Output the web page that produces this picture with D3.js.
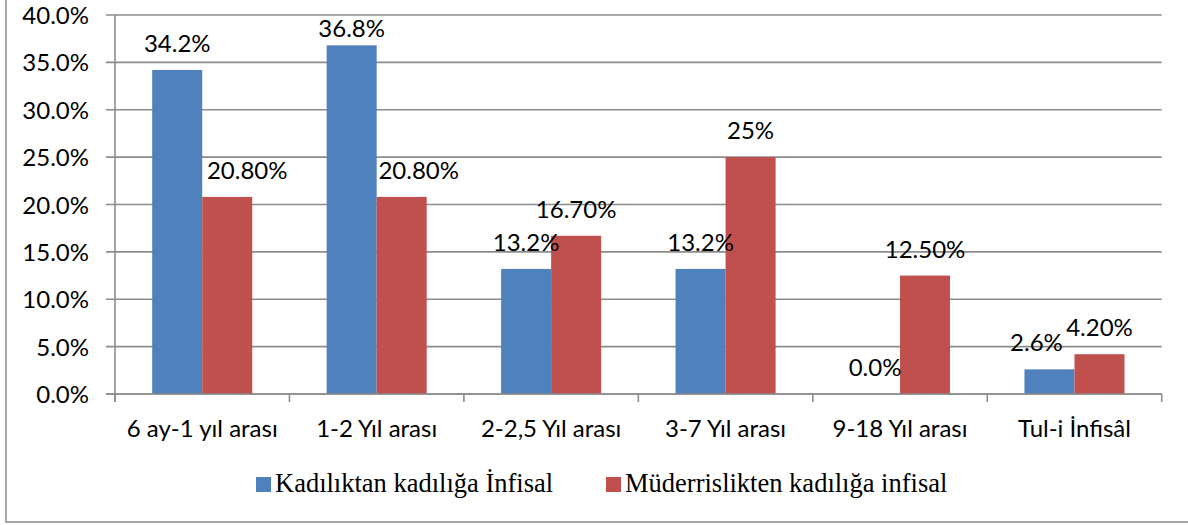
<!DOCTYPE html>
<html>
<head>
<meta charset="utf-8">
<script src="https://cdn.jsdelivr.net/npm/d3@7"></script>
<style>
  body { margin: 0; background: #fff; }
  svg { display: block; }
</style>
</head>
<body>
<svg id="chart" width="1188" height="525"></svg>
<script>
// categories and the two series (percent)
const categories = ['6 ay-1 yıl arası', '1-2 Yıl arası', '2-2,5 Yıl arası', '3-7 Yıl arası', '9-18 Yıl arası', 'Tul-i İnfisâl'];
const seriesNames = ['Kadılıktan kadılığa İnfisal', 'Müderrislikten kadılığa infisal'];
const kadiValues = [34.2, 36.8, 13.2, 13.2, 0.0, 2.6];
const muderrisValues = [20.8, 20.8, 16.7, 25, 12.5, 4.2];
// data labels as printed on the chart
const kadiLabels = ['34.2%', '36.8%', '13.2%', '13.2%', '0.0%', '2.6%'];
const muderrisLabels = ['20.80%', '20.80%', '16.70%', '25%', '12.50%', '4.20%'];
const yTicks = [0, 5, 10, 15, 20, 25, 30, 35, 40];

const colors = ['#4F81BD', '#C0504D'];
const sans = 'Lato, "Open Sans", sans-serif';
const serif = '"Liberation Serif", "Times New Roman", serif';

const svg = d3.select('#chart');
const plotL = 115, plotR = 1161.7, plotT = 15, plotB = 394;

const x = d3.scaleBand().domain(categories).range([plotL, plotR]);
const x1 = d3.scaleBand().domain(seriesNames).range([0, x.bandwidth()]).paddingOuter(0.744);
const y = d3.scaleLinear().domain([0, 40]).range([plotB, plotT]);

// outer border (left + bottom only visible)
svg.append('path')
  .attr('d', 'M6,0 V522 H1188')
  .attr('fill', 'none').attr('stroke', '#a6a6a6').attr('stroke-width', 2);

// gridlines + y labels
const grid = svg.append('g');
grid.selectAll('line').data(yTicks).join('line')
  .attr('x1', plotL - 9).attr('x2', plotR)
  .attr('y1', d => y(d)).attr('y2', d => y(d))
  .attr('stroke', '#8c8c8c').attr('stroke-width', 1.6);
grid.selectAll('text').data(yTicks).join('text')
  .attr('x', 89).attr('y', d => y(d) + 9)
  .attr('text-anchor', 'end')
  .style('font', `24px ${sans}`).attr('fill', '#000')
  .text(d => d.toFixed(1) + '%');

// bars
const rows = categories.map((c, i) => ({ c, i, vals: [kadiValues[i], muderrisValues[i]] }));
const groups = svg.append('g').selectAll('g').data(rows).join('g')
  .attr('transform', d => `translate(${x(d.c)},0)`);
groups.selectAll('rect')
  .data(d => d.vals.map((v, s) => ({ v, s })))
  .join('rect')
  .attr('x', d => x1(seriesNames[d.s]))
  .attr('width', x1.bandwidth())
  .attr('y', d => y(d.v))
  .attr('height', d => y(0) - y(d.v))
  .attr('fill', d => colors[d.s]);

// axes lines and category ticks
const axisColor = '#8c8c8c';
svg.append('line').attr('x1', plotL).attr('x2', plotL).attr('y1', plotT).attr('y2', plotB + 8)
  .attr('stroke', axisColor).attr('stroke-width', 1.6);
svg.append('line').attr('x1', plotL - 9).attr('x2', plotR).attr('y1', plotB).attr('y2', plotB)
  .attr('stroke', axisColor).attr('stroke-width', 1.6);
const bounds = categories.map(c => x(c)).concat([plotR]);
svg.append('g').selectAll('line').data(bounds).join('line')
  .attr('x1', d => d).attr('x2', d => d).attr('y1', plotB).attr('y2', plotB + 8)
  .attr('stroke', axisColor).attr('stroke-width', 1.6);

svg.append('g').selectAll('text').data(categories).join('text')
  .attr('x', d => x(d) + x.bandwidth() / 2)
  .attr('y', plotB + 43)
  .attr('text-anchor', 'middle')
  .style('font', `24px ${sans}`).attr('fill', '#000')
  .text(d => d);

// data labels (a few were nudged by hand in the original)
const nudgeX = [[0, 20], [0, 17], [0, 0], [0, 0], [0, 0], [-13, 0]];
const nudgeY = [[0, 0], [10, 0], [0, 0], [0, 0], [0, 0], [0, 0]];
const labelSets = [kadiLabels, muderrisLabels];
const valueSets = [kadiValues, muderrisValues];
const lab = [];
categories.forEach((c, i) => {
  [0, 1].forEach(s => lab.push({ c, i, s, v: valueSets[s][i], t: labelSets[s][i] }));
});
svg.append('g').selectAll('text').data(lab).join('text')
  .attr('x', d => x(d.c) + x1(seriesNames[d.s]) + x1.bandwidth() / 2 + nudgeX[d.i][d.s])
  .attr('y', d => y(d.v) - 18 + nudgeY[d.i][d.s])
  .attr('text-anchor', 'middle')
  .style('font', `24px ${sans}`).attr('fill', '#000')
  .text(d => d.t);

// legend
const legendX = [256, 606];
const leg = svg.append('g').selectAll('g').data(seriesNames).join('g')
  .attr('transform', (d, i) => `translate(${legendX[i]},477)`);
leg.append('rect').attr('width', 15).attr('height', 15).attr('fill', (d, i) => colors[i]);
leg.append('text').attr('x', 19).attr('y', 15)
  .style('font', `26.5px ${serif}`).attr('fill', '#000')
  .text(d => d);
</script>
</body>
</html>
